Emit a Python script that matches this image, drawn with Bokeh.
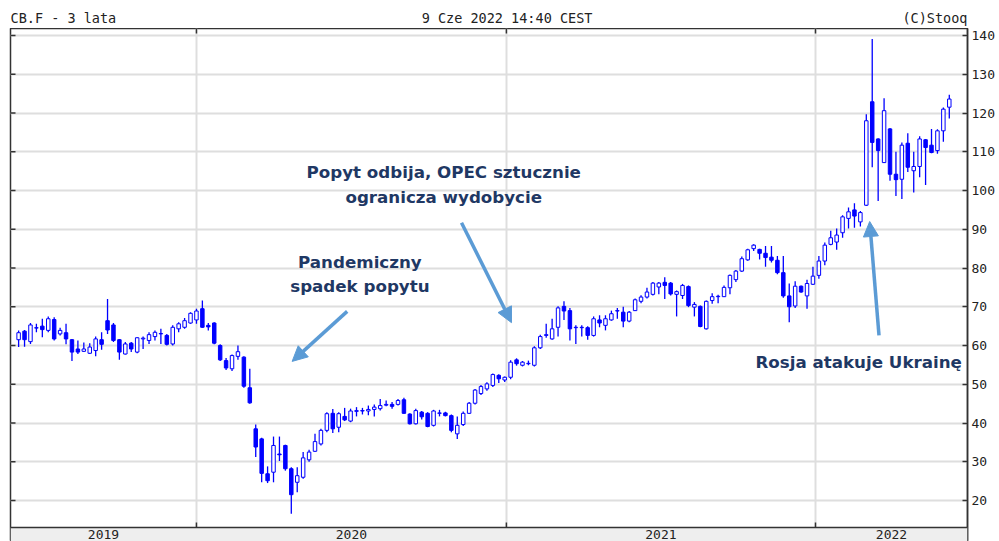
import numpy as np
import pandas as pd
from bokeh.plotting import figure
from bokeh.layouts import column
from bokeh.models import (Range1d, LinearAxis, FixedTicker, BoxAnnotation, Span,
                          Arrow, NormalHead, ColumnDataSource)
from bokeh.core.properties import value
from bokeh.embed import file_html
from bokeh.resources import INLINE

# ---------------- data (weekly Brent futures, CB.F) ----------------
first_week = "2019-06-03"
opens = [61.5, 63.7, 61.0, 64.5, 65.0, 63.9, 66.7, 63.0, 63.3, 61.5,
         59.1, 58.5, 58.0, 58.7, 61.5, 66.4, 65.3, 61.5, 57.8, 60.6,
         58.3, 61.7, 61.3, 62.3, 63.0, 62.6, 60.4, 64.3, 64.7, 65.8,
         66.6, 69.5, 65.2, 65.8, 60.0, 56.1, 54.0, 57.2, 57.0, 49.1,
         38.5, 35.9, 26.9, 27.3, 32.0, 34.2, 28.2, 24.7, 26.0, 30.5,
         32.7, 34.6, 38.1, 42.5, 38.9, 41.7, 40.5, 43.0, 43.2, 43.1,
         43.5, 43.7, 44.6, 44.8, 44.8, 46.0, 42.3, 39.8, 42.8, 42.5,
         39.4, 42.5, 42.6, 41.9, 37.2, 39.6, 42.5, 45.1, 47.6, 48.8,
         49.7, 52.3, 51.1, 51.8, 56.3, 54.9, 55.3, 54.9, 59.4, 62.6,
         61.7, 64.7, 70.1, 69.0, 64.6, 64.6, 64.6, 62.6, 66.6, 65.2,
         66.6, 68.9, 68.6, 66.3, 69.0, 71.4, 72.5, 73.2, 75.1, 76.3,
         76.1, 73.2, 72.9, 75.2, 69.9, 70.1, 64.3, 71.6, 72.6, 72.6,
         74.9, 77.0, 79.2, 82.1, 85.0, 84.8, 83.8, 82.8, 82.0, 78.8,
         72.8, 70.2, 75.3, 72.8, 75.8, 78.1, 81.8, 86.1, 86.7, 89.1,
         92.8, 95.0, 91.9, 96.2, 122.9, 113.3, 107.2, 115.9, 104.2, 102.9,
         112.2, 105.1, 106.2, 113.1, 111.7, 110.3, 115.4, 121.5]
highs = [63.9, 64.0, 65.8, 65.6, 66.9, 67.5, 67.3, 64.6, 65.6, 61.7,
         61.3, 60.8, 60.6, 62.3, 63.4, 72.0, 65.8, 61.7, 60.9, 60.9,
         62.1, 62.3, 63.4, 63.9, 64.3, 63.0, 65.2, 66.0, 67.1, 68.6,
         69.5, 71.6, 65.8, 66.0, 60.3, 56.8, 57.7, 60.0, 57.2, 54.0,
         39.6, 36.2, 28.8, 36.5, 36.5, 34.4, 28.6, 28.6, 32.5, 33.1,
         37.2, 38.5, 42.8, 43.6, 42.8, 43.9, 43.7, 44.1, 43.9, 44.5,
         44.8, 46.2, 45.8, 45.4, 46.2, 46.5, 42.5, 43.7, 43.1, 42.8,
         43.4, 43.4, 42.9, 42.2, 41.7, 43.0, 45.4, 48.8, 49.8, 50.5,
         52.8, 52.6, 52.0, 56.2, 56.7, 56.0, 56.1, 59.8, 62.8, 65.6,
         66.9, 70.1, 71.4, 69.7, 65.2, 65.2, 65.0, 67.5, 67.8, 67.8,
         69.0, 69.7, 70.0, 68.9, 72.1, 73.0, 74.9, 76.4, 76.4, 77.6,
         76.4, 74.2, 75.9, 75.5, 71.2, 70.3, 71.6, 73.5, 73.1, 75.5,
         78.3, 79.5, 83.0, 85.0, 86.1, 85.0, 85.7, 85.7, 83.1, 83.1,
         76.0, 76.6, 75.5, 77.0, 80.3, 83.1, 86.6, 89.6, 90.2, 93.6,
         95.6, 96.7, 94.7, 119.7, 139.1, 113.5, 123.8, 116.1, 110.0, 112.4,
         114.8, 110.0, 114.0, 113.3, 115.9, 115.8, 121.4, 124.7]
lows = [59.6, 59.7, 60.4, 63.4, 62.1, 63.4, 61.3, 62.6, 60.3, 56.0,
        57.8, 58.3, 57.8, 57.2, 58.9, 63.0, 60.9, 56.3, 57.7, 58.3,
        58.0, 59.1, 60.4, 61.3, 60.4, 60.0, 60.0, 63.4, 64.3, 65.6,
        65.6, 64.6, 63.9, 60.3, 56.0, 53.7, 53.4, 56.3, 49.1, 45.0,
        31.2, 24.7, 24.5, 24.7, 30.2, 27.7, 16.6, 22.1, 25.6, 30.0,
        32.5, 34.2, 37.6, 37.4, 37.6, 40.5, 40.2, 41.7, 42.2, 42.0,
        41.7, 43.2, 44.3, 43.7, 44.5, 42.4, 39.6, 39.6, 40.9, 38.9,
        39.1, 41.7, 41.7, 37.6, 35.9, 39.2, 42.4, 44.8, 47.2, 48.3,
        49.3, 50.3, 50.6, 51.3, 54.8, 54.6, 54.9, 54.6, 59.1, 62.0,
        61.5, 62.3, 66.6, 61.3, 60.4, 62.3, 61.5, 62.3, 64.7, 63.9,
        66.4, 66.9, 64.7, 66.0, 68.9, 70.9, 72.1, 72.9, 73.2, 72.0,
        72.9, 67.5, 72.0, 69.9, 67.5, 64.7, 64.1, 70.8, 70.9, 72.5,
        73.2, 76.4, 79.0, 81.9, 84.4, 82.2, 80.3, 81.4, 78.4, 72.3,
        66.0, 69.7, 73.6, 69.5, 75.6, 77.2, 80.7, 85.9, 84.7, 87.8,
        90.2, 90.4, 90.7, 96.0, 106.0, 97.3, 107.1, 102.5, 98.6, 97.8,
        104.8, 99.5, 103.4, 101.4, 109.6, 109.5, 112.6, 118.6]
closes = [63.3, 61.5, 65.3, 64.6, 64.1, 66.9, 61.7, 63.9, 61.7, 58.3,
          58.3, 59.1, 59.6, 61.7, 60.3, 64.0, 61.3, 58.3, 60.4, 59.1,
          62.0, 61.9, 62.8, 63.4, 63.1, 60.3, 64.7, 65.6, 66.4, 68.3,
          68.9, 64.7, 64.8, 60.6, 56.3, 54.2, 57.4, 58.4, 49.5, 45.2,
          33.8, 27.0, 25.1, 34.2, 31.8, 28.2, 21.5, 26.4, 31.0, 32.5,
          35.2, 38.1, 42.4, 38.5, 42.4, 40.8, 43.1, 43.2, 43.1, 43.5,
          44.1, 44.5, 44.8, 44.3, 45.8, 42.5, 39.8, 43.2, 41.6, 39.1,
          43.1, 42.6, 41.9, 38.1, 39.4, 42.5, 45.1, 48.5, 49.4, 50.1,
          52.5, 51.4, 51.8, 55.7, 55.3, 55.7, 55.4, 59.4, 62.3, 62.8,
          64.3, 69.7, 68.9, 64.3, 64.7, 64.7, 62.6, 66.9, 65.8, 66.9,
          68.2, 69.0, 66.3, 68.6, 71.8, 72.5, 73.8, 76.1, 76.1, 75.5,
          73.3, 73.9, 75.5, 70.3, 70.6, 64.9, 71.4, 72.6, 72.7, 75.0,
          78.1, 79.2, 82.4, 84.7, 85.9, 83.8, 82.7, 82.0, 78.8, 72.8,
          70.0, 75.3, 73.8, 76.0, 77.9, 81.8, 85.9, 87.8, 88.5, 93.2,
          94.5, 93.4, 94.3, 118.0, 112.4, 110.3, 120.6, 104.2, 102.8, 111.7,
          106.0, 106.2, 113.3, 111.1, 109.8, 115.4, 121.0, 123.6]
y_ticks = [20, 30, 40, 50, 60, 70, 80, 90, 100, 110, 120, 130, 140]
year_labels = ["2019", "2020", "2021", "2022"]
year_starts = ["2020-01-01", "2021-01-01", "2022-01-01"]
view_start = "2019-05-26 10:00"
view_end = "2022-06-29 12:00"

# ---------------- helpers ----------------
DAY = 86400000.0
def ms(s):
    return pd.Timestamp(s).value / 1e6

W = 998
LEFT, RIGHT = 10, 31
FRAME_W = W - LEFT - RIGHT
x0, x1 = ms(view_start), ms(view_end)
px_per_ms = FRAME_W / (x1 - x0)
px_per_unit = 3.875
y1 = 20 + (500 - 28) / px_per_unit      # top of plot frame
y0 = 20 - (541 - 500) / px_per_unit     # bottom of plot frame
strip_top = 20 - (527 - 500) / px_per_unit

weeks = pd.date_range(first_week, periods=len(closes), freq="7D") + pd.Timedelta(days=2)
wx = (weeks.values.astype("datetime64[ms]").astype("int64")).astype(float)
o = np.array(opens); c = np.array(closes); h = np.array(highs); l = np.array(lows)
up = c >= o
src_up = ColumnDataSource(dict(x=wx[up], top=c[up], bottom=o[up]))
src_dn = ColumnDataSource(dict(x=wx[~up], top=o[~up], bottom=c[~up]))
src_w = ColumnDataSource(dict(x=wx, h=h, l=l))

year_ms = [ms(s) for s in year_starts]
bounds = [x0] + year_ms + [x1]
year_mid = [(bounds[i] + bounds[i + 1]) / 2 for i in range(len(year_labels))]

BLUE = "#0000ff"
NAVY = "#1f3864"
ARROW = "#5b9bd5"
DARK = "#333333"
MONO = "DejaVu Sans Mono"

xr = Range1d(x0, x1)

# ---------------- header strip ----------------
hdr = figure(width=W, height=28, output_backend="svg", toolbar_location=None,
             title=None, x_range=xr, y_range=Range1d(0, 28),
             x_axis_location=None, y_axis_location=None,
             min_border_left=LEFT, min_border_right=RIGHT, min_border_top=0,
             min_border_bottom=0, outline_line_color=None,
             background_fill_color="white", border_fill_color="white")
hdr.grid.visible = False
hdr_text = ["CB.F - 3 lata", "9 Cze 2022 14:40 CEST", "(C)Stooq"]
hdr.text(x=[x0, ms("2020-09-23"), x1], y=[10.5, 10.5, 10.5], text=hdr_text,
         text_align=["left", "left", "right"], text_baseline="middle",
         text_font=value(MONO), text_font_size="13.5px", text_color="#222222")

# ---------------- main chart ----------------
p = figure(width=W, height=513, output_backend="svg", toolbar_location=None,
           title=None, x_range=xr, y_range=Range1d(y0, y1),
           x_axis_location=None, y_axis_location=None,
           min_border_left=LEFT, min_border_right=RIGHT, min_border_top=0, min_border_bottom=0,
           background_fill_color="white", border_fill_color="white",
           outline_line_color=DARK, outline_line_width=1.5)

p.xgrid.ticker = FixedTicker(ticks=year_ms)
p.ygrid.ticker = FixedTicker(ticks=y_ticks)
for g in (p.xgrid, p.ygrid):
    g.grid_line_color = "#dedede"
    g.grid_line_width = 2

yr = LinearAxis(ticker=FixedTicker(ticks=y_ticks), major_tick_in=5, major_tick_out=0,
                minor_tick_line_color=None, axis_line_color=DARK, axis_line_width=1.5,
                major_tick_line_color=DARK, major_tick_line_width=1.5,
                major_label_text_font=MONO, major_label_text_font_size="13px",
                major_label_text_color="#222222", major_label_standoff=4)
p.add_layout(yr, "right")

# inward tick marks on the left and top borders
tick_dx = 5 / px_per_ms
tick_dy = 5 / px_per_unit
p.segment(x0=[x0] * len(y_ticks), x1=[x0 + tick_dx] * len(y_ticks), y0=y_ticks, y1=y_ticks,
          line_color=DARK, line_width=1.5)
p.segment(x0=year_ms, x1=year_ms, y0=[y1] * len(year_ms), y1=[y1 - tick_dy] * len(year_ms),
          line_color=DARK, line_width=1.5)

# candles
p.segment(x0="x", x1="x", y0="l", y1="h", source=src_w, line_color=BLUE, line_width=1.3)
bw = 4.1 * DAY
p.vbar(x="x", width=bw, top="top", bottom="bottom", source=src_dn,
       fill_color=BLUE, line_color=BLUE, line_width=1)
p.vbar(x="x", width=bw, top="top", bottom="bottom", source=src_up,
       fill_color="white", line_color=BLUE, line_width=1)

# date strip at the bottom
p.add_layout(BoxAnnotation(top=strip_top, fill_color="#eeeeee", fill_alpha=1.0,
                           line_color=None))
p.add_layout(Span(location=strip_top, dimension="width", line_color=DARK, line_width=1.5))
p.segment(x0=year_ms, x1=year_ms, y0=[strip_top] * len(year_ms),
          y1=[strip_top + tick_dy] * len(year_ms), line_color=DARK, line_width=1.5)
p.text(x=year_mid, y=[strip_top - 6.5 / px_per_unit] * len(year_mid), text=year_labels,
       text_font=value(MONO), text_font_size="13px", text_color="#222222",
       text_align="center", text_baseline="middle", level="overlay")

# annotations
ann_text = ["Popyt odbija, OPEC sztucznie", "ogranicza wydobycie",
            "Pandemiczny", "spadek popytu", "Rosja atakuje Ukrainę"]
ann_x = [ms("2020-10-19"), ms("2020-10-19"), ms("2020-07-12"), ms("2020-07-12"),
         ms("2022-02-21")]
ann_y = [104.65, 98.45, 81.42, 75.48, 55.87]
p.text(x=ann_x, y=ann_y, text=ann_text, text_font=value("DejaVu Sans"),
       text_font_style="bold", text_font_size="16.7px", text_color=NAVY,
       text_align="center", text_baseline="middle")

def arrow(xs, ys, xe, ye):
    p.add_layout(Arrow(end=NormalHead(size=15, fill_color=ARROW, line_color=ARROW),
                       x_start=ms(xs), y_start=ys, x_end=ms(xe), y_end=ye,
                       line_color=ARROW, line_width=3.5))

arrow("2020-06-27", 68.8, "2020-04-23", 55.9)
arrow("2020-11-09", 91.7, "2021-01-07", 65.9)
arrow("2022-03-17", 62.6, "2022-03-06", 92.0)

layout = column(hdr, p, spacing=0)
open("out.html", "w").write(file_html(layout, INLINE))
